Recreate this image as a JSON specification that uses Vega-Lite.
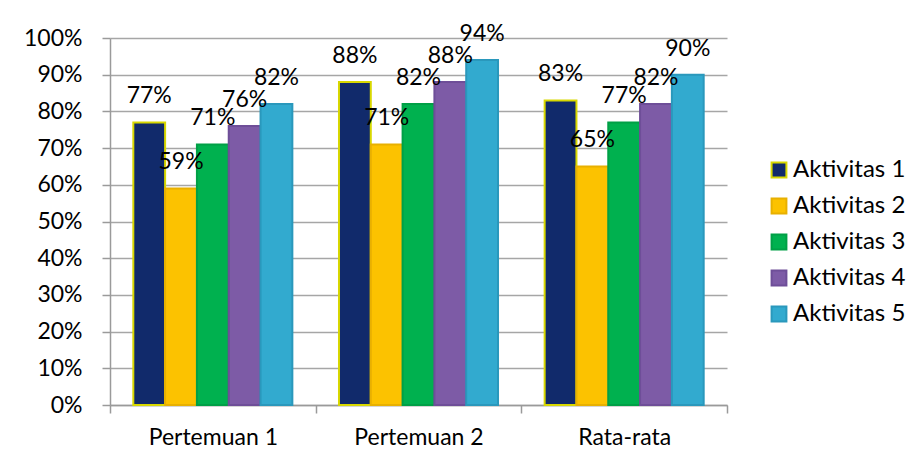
{
  "$schema": "https://vega.github.io/schema/vega-lite/v6.json",
  "autosize": {"type": "none"},
  "padding": {"left": 110, "top": 38, "right": 190, "bottom": 58},
  "width": 617,
  "height": 367,
  "background": "white",
  "config": {
    "font": "Lato",
    "view": {"stroke": null},
    "axis": {"labelFont": "Lato", "labelColor": "black"}
  },
  "data": {
    "values": [
      {"group": "Pertemuan 1", "series": "Aktivitas 1", "value": 0.77},
      {"group": "Pertemuan 1", "series": "Aktivitas 2", "value": 0.59},
      {"group": "Pertemuan 1", "series": "Aktivitas 3", "value": 0.71},
      {"group": "Pertemuan 1", "series": "Aktivitas 4", "value": 0.76},
      {"group": "Pertemuan 1", "series": "Aktivitas 5", "value": 0.82},
      {"group": "Pertemuan 2", "series": "Aktivitas 1", "value": 0.88},
      {"group": "Pertemuan 2", "series": "Aktivitas 2", "value": 0.71},
      {"group": "Pertemuan 2", "series": "Aktivitas 3", "value": 0.82},
      {"group": "Pertemuan 2", "series": "Aktivitas 4", "value": 0.88},
      {"group": "Pertemuan 2", "series": "Aktivitas 5", "value": 0.94},
      {"group": "Rata-rata", "series": "Aktivitas 1", "value": 0.83},
      {"group": "Rata-rata", "series": "Aktivitas 2", "value": 0.65},
      {"group": "Rata-rata", "series": "Aktivitas 3", "value": 0.77},
      {"group": "Rata-rata", "series": "Aktivitas 4", "value": 0.82},
      {"group": "Rata-rata", "series": "Aktivitas 5", "value": 0.90}
    ]
  },
  "encoding": {
    "x": {
      "field": "group", "type": "nominal", "sort": null,
      "scale": {"paddingInner": 0, "paddingOuter": 0},
      "axis": {
        "title": null, "labelAngle": 0, "labelFontSize": 23, "labelPadding": 13,
        "domainColor": "#9a9a9a", "domainWidth": 1.5, "tickColor": "#9a9a9a", "tickWidth": 1.5,
        "tickSize": 8, "tickBand": "extent", "grid": false
      }
    },
    "xOffset": {
      "field": "series", "type": "nominal",
      "scale": {"paddingInner": 0, "paddingOuter": 0.733}
    },
    "y": {
      "field": "value", "type": "quantitative",
      "scale": {"domain": [0, 1]},
      "axis": {
        "title": null, "format": ".0%", "values": [0,0.1,0.2,0.3,0.4,0.5,0.6,0.7,0.8,0.9,1],
        "labelOverlap": false, "labelFontSize": 23, "labelPadding": 20,
        "domainColor": "#9a9a9a", "domainWidth": 1.5, "tickColor": "#9a9a9a", "tickWidth": 1.5, "tickSize": 8,
        "gridColor": "#a6a6a6", "gridWidth": 1.5
      }
    }
  },
  "layer": [
    {
      "mark": {"type": "bar", "strokeWidth": 2},
      "encoding": {
        "color": {
          "field": "series", "type": "nominal",
          "scale": {"range": ["#112a6b", "#fcc200", "#00b14f", "#7d5ba6", "#32aacf"]},
          "legend": {
            "title": null, "orient": "none", "legendX": 657, "legendY": 120, "padding": 0,
            "symbolType": "square", "symbolSize": 220, "symbolStrokeWidth": 2,
            "labelFontSize": 24, "labelFont": "Lato", "labelColor": "black", "labelOffset": 2,
            "rowPadding": 12
          }
        },
        "stroke": {
          "field": "series", "type": "nominal",
          "scale": {"range": ["#d8d800", "#e8b000", "#00a046", "#6e4e98", "#2a98bc"]},
          "legend": null
        }
      }
    },
    {
      "mark": {"type": "text", "fontSize": 23, "baseline": "middle", "dy": -26, "color": "black"},
      "encoding": {
        "text": {"field": "value", "type": "quantitative", "format": ".0%"}
      }
    }
  ]
}
